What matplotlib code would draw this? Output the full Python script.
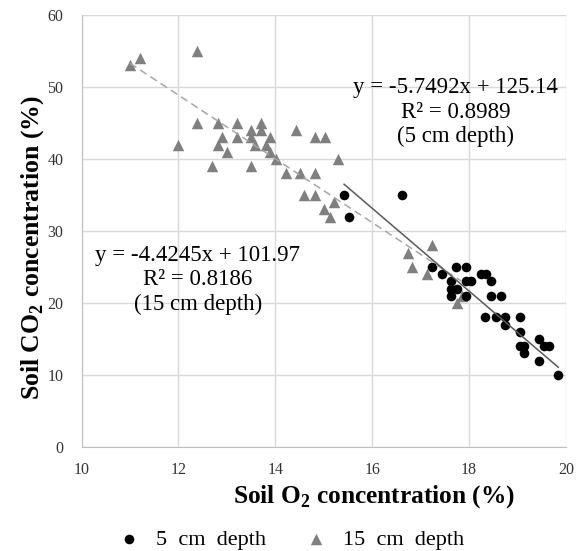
import matplotlib
matplotlib.use("Agg")
import matplotlib.pyplot as plt
import numpy as np

plt.rcParams["font.family"] = ["Liberation Serif", "DejaVu Serif"]
plt.rcParams["mathtext.fontset"] = "custom"
plt.rcParams["mathtext.rm"] = "Liberation Serif"
plt.rcParams["mathtext.bf"] = "Liberation Serif:bold"

# 5 cm depth (black circles)
o2_5cm = [15.42, 15.52, 16.61, 17.24, 17.44, 17.72, 17.93, 17.63, 17.93, 18.03,
          18.24, 18.34, 18.45, 17.63, 17.74, 17.63, 17.93, 18.45, 18.65, 18.32,
          18.55, 18.75, 18.75, 19.05, 19.05, 19.05, 19.14, 19.14, 19.44, 19.55,
          19.65, 19.44, 19.84]
co2_5cm = [35, 32, 35, 25, 24, 25, 25, 23, 23, 23,
           24, 24, 23, 22, 22, 21, 21, 21, 21, 18,
           18, 18, 17, 18, 16, 14, 14, 13, 15, 14,
           14, 12, 10]

# 15 cm depth (grey triangles)
o2_15cm = [11.0, 11.2, 12.38, 12.0, 12.38, 12.81, 13.21, 13.71, 13.5, 13.71,
           14.42, 14.82, 15.02, 12.9, 13.21, 13.5, 13.9, 12.81, 13.58, 13.8,
           13.0, 13.9, 14.02, 15.3, 12.7, 13.5, 14.22, 14.5, 14.82, 14.6,
           14.82, 15.21, 15.0, 15.12, 17.24, 16.73, 16.83, 17.14, 17.85, 17.74]
co2_15cm = [53, 54, 55, 42, 45, 45, 45, 45, 44, 44,
            44, 43, 43, 43, 43, 43, 43, 42, 42, 42,
            41, 41, 40, 40, 39, 39, 38, 38, 38, 35,
            35, 34, 33, 32, 28, 27, 25, 24, 21, 20]

# linear trendlines as reported on the chart: slope, intercept, R^2
fit_5cm = (-5.7492, 125.14, 0.8989)
fit_15cm = (-4.4245, 101.97, 0.8186)

x_ticks = [10, 12, 14, 16, 18, 20]
y_ticks = [0, 10, 20, 30, 40, 50, 60]

fig = plt.figure(figsize=(5.77, 5.51), dpi=100)
ax = fig.add_axes([81.5 / 577, 1 - 447 / 551, (566 - 81.5) / 577, (447 - 15) / 551])

ax.grid(True, color="#d9d9d9", linewidth=1)
ax.set_axisbelow(True)

ax.scatter(o2_15cm, co2_15cm, marker="^", s=68, color="#7f7f7f", linewidths=0,
           zorder=3, label="15  cm  depth")
ax.scatter(o2_5cm, co2_5cm, marker="o", s=48, color="black", linewidths=0,
           zorder=4, label="5  cm  depth")

# trendlines span each series' data range
for xs, (m, b, _), style in [(o2_15cm, fit_15cm, dict(color="#a6a6a6", ls=(0, (5, 3)), lw=1.1)),
                             (o2_5cm, fit_5cm, dict(color="#595959", ls="-", lw=1.1))]:
    xx = np.array([min(xs), max(xs)])
    ax.plot(xx, m * xx + b, zorder=5, **style)

ax.text(17.72, 46.5, "y = %.4fx + %.2f\nR\u00b2 = %.4f\n(5 cm depth)" % fit_5cm,
        ha="center", va="center", fontsize=16.5, linespacing=1.2, zorder=6)
ax.text(12.4, 23.2, "y = %.4fx + %.2f\nR\u00b2 = %.4f\n(15 cm depth)" % fit_15cm,
        ha="center", va="center", fontsize=16.5, linespacing=1.2, zorder=6)

ax.set_xlim(10, 20)
ax.set_ylim(0, 60)
ax.set_xticks(x_ticks)
ax.set_yticks(y_ticks)
ax.tick_params(axis="y", length=0, labelsize=11.5, pad=13, labelcolor="#333333")
ax.tick_params(axis="x", length=0, labelsize=11.5, pad=11, labelcolor="#333333")
for side in ["top", "right"]:
    ax.spines[side].set_visible(False)
for side in ["left", "bottom"]:
    ax.spines[side].set_color("#bfbfbf")

fig.text(374 / 577, 1 - 497 / 551, r"Soil O$_\mathbf{2}$ concentration (%)",
         ha="center", va="center", fontsize=18.3, fontweight="bold")
fig.text(33 / 577, 1 - 248 / 551, r"Soil CO$_\mathbf{2}$ concentration (%)",
         ha="center", va="center", fontsize=18.5, fontweight="bold", rotation=90)

handles, labels = ax.get_legend_handles_labels()
fig.legend(handles[::-1], labels[::-1], loc="center", ncol=2, frameon=False,
           bbox_to_anchor=(291 / 577, 1 - 540 / 551), fontsize=16,
           handletextpad=0.7, columnspacing=1.75, handlelength=1.0)

fig.savefig("out.png", dpi=100)
